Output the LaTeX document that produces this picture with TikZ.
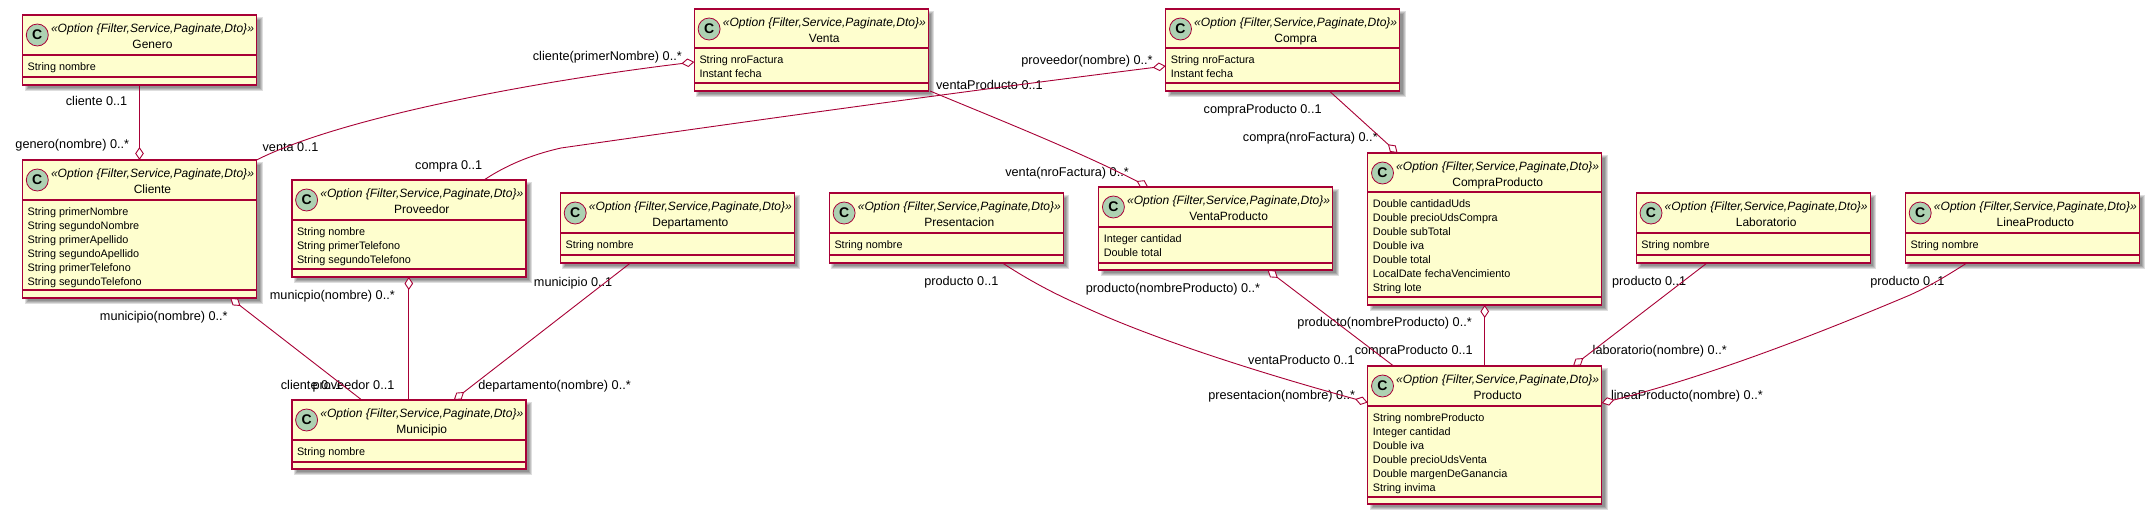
\documentclass[tikz,border=0pt]{standalone}
\usepackage{fontspec}
\setmainfont{Liberation Sans}
\usetikzlibrary{arrows.meta,calc}
\definecolor{umlred}{HTML}{A80036}
\definecolor{umlfill}{HTML}{FEFECE}
\definecolor{umlspot}{HTML}{ADD1B2}
\pgfdeclarelayer{shadowlayer}
\pgfdeclarelayer{labellayer}
\pgfdeclarelayer{linelayer}
\pgfsetlayers{shadowlayer,labellayer,linelayer,main}
\tikzset{
  classbox/.style={draw=umlred,fill=umlfill,line width=1.4pt,rectangle,inner sep=0pt,outer sep=0pt,anchor=north west,minimum width=234pt},
  classrule/.style={draw=umlred,line width=1.4pt},
  classshade/.style={fill=black,fill opacity=.13,draw=none},
  spot/.style={circle,draw=umlred,fill=umlspot,line width=.8pt,minimum size=22pt,inner sep=0pt,font=\fontsize{14}{14}\selectfont\bfseries},
  stereo/.style={inner sep=0pt,anchor=base,font=\fontsize{12.05}{14}\selectfont\itshape},
  ctitle/.style={inner sep=0pt,anchor=base,font=\fontsize{12}{14}\selectfont},
  attrtext/.style={inner sep=0pt,anchor=north west,align=left,font=\fontsize{10.85}{14}\selectfont},
  rellabel/.style={inner sep=0pt,anchor=base east,font=\fontsize{12.7}{14}\selectfont},
  link/.style={draw=umlred,line width=.9pt},
  aggr/.style={link,-{Diamond[fill=white,length=13pt,width=8.6pt]}}
}
% id, left, top, height, header offset, rule offset, title, attributes
\newcommand{\umlclass}[8]{%
  \pgfmathsetmacro{\bxl}{#2}\pgfmathsetmacro{\bxr}{#2+234}%
  \pgfmathsetmacro{\byt}{#3}\pgfmathsetmacro{\byb}{#3+#4}%
  \begin{pgfonlayer}{shadowlayer}
    \foreach \e in {2,1,0,-1}{%
      \fill[classshade] (\bxl+4-\e,\byt+4-\e) rectangle (\bxr+4+\e,\byb+4+\e);}
  \end{pgfonlayer}
  \node[classbox,minimum height=#4pt] (#1) at (#2,#3) {};
  \draw[classrule] ([yshift=-#5pt]#1.north west) -- ([yshift=-#5pt]#1.north east);
  \draw[classrule] ([yshift=-#6pt]#1.north west) -- ([yshift=-#6pt]#1.north east);
  \node[spot] (#1-spot) at ([shift={(14.8,20)}]#1.north west) {C};
  \node[stereo] (#1-stereo) at ([shift={(130,17)}]#1.north west) {«Option \{Filter,Service,Paginate,Dto\}»};
  \node[ctitle] (#1-title) at ([shift={(130,33)}]#1.north west) {#7};
  \node[attrtext] (#1-attrs) at ([shift={(5,#5+7)}]#1.north west) {\rule{0pt}{8pt}#8};
}
\newcommand{\rellab}[4]{%
  \pgfmathsetmacro{\lby}{#3+4.7}%
  \begin{pgfonlayer}{labellayer}
    \node[rellabel] (#1) at (#2,\lby) {#4};
  \end{pgfonlayer}%
}
\begin{document}
\begin{tikzpicture}[x=1pt,y=-1pt]
\useasboundingbox (0,0) rectangle (2149,514);
\begin{pgfonlayer}{shadowlayer}
\fill[white] (0,0) rectangle (2149,514);
\end{pgfonlayer}

\umlclass{genero}{22.5}{15}{70}{40}{62}{Genero}{String nombre}
\umlclass{cliente}{22.5}{160}{138}{40}{130}{Cliente}{String primerNombre\\String segundoNombre\\String primerApellido\\String segundoApellido\\String primerTelefono\\String segundoTelefono}
\umlclass{proveedor}{291.8}{180}{97}{40}{89}{Proveedor}{String nombre\\String primerTelefono\\String segundoTelefono}
\umlclass{municipio}{291.8}{400}{69}{40}{62}{Municipio}{String nombre}
\umlclass{venta}{694.3}{9}{82}{39}{74}{Venta}{String nroFactura\\Instant fecha}
\umlclass{departamento}{560.4}{193}{70}{40}{62}{Departamento}{String nombre}
\umlclass{presentacion}{829.3}{193}{70}{40}{62}{Presentacion}{String nombre}
\umlclass{compra}{1165.7}{9}{82}{39}{74}{Compra}{String nroFactura\\Instant fecha}
\umlclass{ventaproducto}{1098.6}{187}{83}{40}{76}{VentaProducto}{Integer cantidad\\Double total}
\umlclass{compraproducto}{1367.7}{153}{152}{39}{144}{CompraProducto}{Double cantidadUds\\Double precioUdsCompra\\Double subTotal\\Double iva\\Double total\\LocalDate fechaVencimiento\\String lote}
\umlclass{producto}{1367.7}{366}{138}{40}{131}{Producto}{String nombreProducto\\Integer cantidad\\Double iva\\Double precioUdsVenta\\Double margenDeGanancia\\String invima}
\umlclass{laboratorio}{1636.2}{193}{70}{40}{62}{Laboratorio}{String nombre}
\umlclass{lineaproducto}{1905.4}{193}{70}{40}{62}{LineaProducto}{String nombre}

\begin{pgfonlayer}{linelayer}
\draw[aggr] (genero.south) -- (cliente.north);
\draw[aggr] ([shift={(70,0)}]municipio.north west) -- ([shift={(207.7,138)}]cliente.north west);
\draw[aggr] (municipio.north) -- (proveedor.south);
\draw[aggr] ([shift={(70,70)}]departamento.north west) -- ([shift={(162,0)}]municipio.north west);
\draw[aggr] (cliente.north east) .. controls (340,118) and (530,82) .. ([shift={(0,53)}]venta.north west);
\draw[aggr] ([shift={(192.2,0)}]proveedor.north west) .. controls (505,166) and (530,155) .. (561,148) .. controls (750,121) and (950,93) .. ([shift={(0,57)}]compra.north west);
\draw[aggr] ([shift={(235.7,82)}]venta.north west) .. controls (1000,120) and (1080,152) .. ([shift={(49.6,0)}]ventaproducto.north west);
\draw[aggr] ([shift={(163.6,82)}]compra.north west) -- ([shift={(29.9,0)}]compraproducto.north west);
\draw[aggr] ([shift={(25.9,0)}]producto.north west) -- ([shift={(168.9,83)}]ventaproducto.north west);
\draw[aggr] (producto.north) -- (compraproducto.south);
\draw[aggr] ([shift={(173.2,70)}]presentacion.north west) .. controls (1030,281) and (1055,294) .. (1080,305) .. controls (1150,338) and (1260,373) .. ([shift={(0,36.5)}]producto.north west);
\draw[aggr] ([shift={(70.8,70)}]laboratorio.north west) -- ([shift={(205.3,0)}]producto.north west);
\draw[aggr] ([shift={(61.4,70)}]lineaproducto.north west) .. controls (1948,275) and (1930,286) .. (1910,295) .. controls (1820,333) and (1710,376) .. ([shift={(0,37)}]producto.north east);
\end{pgfonlayer}

\rellab{l01}{127.5}{101}{cliente 0..1}
\rellab{l02}{129.3}{143.5}{genero(nombre) 0..*}
\rellab{l03}{318.6}{147}{venta 0..1}
\rellab{l04}{482.5}{165}{compra 0..1}
\rellab{l05}{227.9}{315.3}{municipio(nombre) 0..*}
\rellab{l06}{395}{294.7}{municpio(nombre) 0..*}
\rellab{l07}{342.5}{384.7}{cliente 0..1}
\rellab{l08}{394.6}{384.7}{proveedor 0..1}
\rellab{l09}{612.5}{281.7}{municipio 0..1}
\rellab{l10}{631}{384.7}{departamento(nombre) 0..*}
\rellab{l11}{682}{55.3}{cliente(primerNombre) 0..*}
\rellab{l12}{1042.9}{84.7}{ventaProducto 0..1}
\rellab{l13}{1129}{171.7}{venta(nroFactura) 0..*}
\rellab{l14}{998.6}{280.7}{producto 0..1}
\rellab{l15}{1152.9}{59.3}{proveedor(nombre) 0..*}
\rellab{l16}{1321.8}{108.7}{compraProducto 0..1}
\rellab{l17}{1377.9}{136.3}{compra(nroFactura) 0..*}
\rellab{l18}{1260.4}{287.3}{producto(nombreProducto) 0..*}
\rellab{l19}{1472}{321.3}{producto(nombreProducto) 0..*}
\rellab{l20}{1355}{359.3}{ventaProducto 0..1}
\rellab{l21}{1472.9}{349.3}{compraProducto 0..1}
\rellab{l22}{1355.4}{394.7}{presentacion(nombre) 0..*}
\rellab{l23}{1686.5}{280.7}{producto 0..1}
\rellab{l24}{1727}{349.3}{laboratorio(nombre) 0..*}
\rellab{l25}{1944.6}{280.7}{producto 0..1}
\rellab{l26}{1763}{394.7}{lineaProducto(nombre) 0..*}
\end{tikzpicture}
\end{document}
